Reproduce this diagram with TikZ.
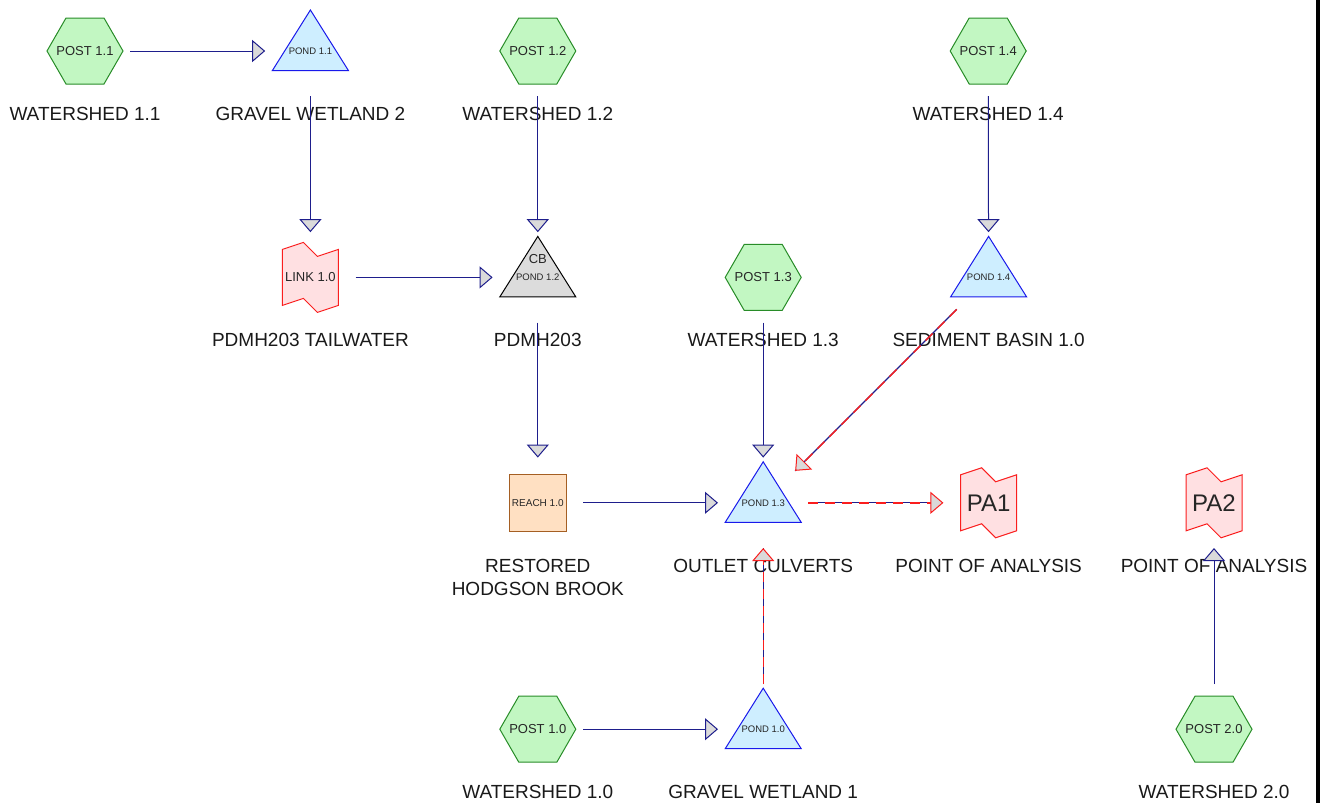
\documentclass[tikz,border=0pt]{standalone}
\usepackage{fontspec}
\setmainfont{Liberation Sans}
\usetikzlibrary{arrows.meta,positioning,backgrounds}

\definecolor{navyline}{RGB}{30,30,140}
\definecolor{postfill}{RGB}{194,247,194}
\definecolor{postdraw}{RGB}{40,140,40}
\definecolor{pondfill}{RGB}{206,238,255}
\definecolor{ponddraw}{RGB}{25,25,235}
\definecolor{cbfill}{RGB}{220,220,220}
\definecolor{linkfill}{RGB}{255,224,226}
\definecolor{linkdraw}{RGB}{250,30,30}
\definecolor{reachfill}{RGB}{255,224,194}
\definecolor{reachdraw}{RGB}{165,95,35}
\definecolor{tipfill}{RGB}{218,218,218}

\tikzset{
    pics/hexa/.style={code={\filldraw[draw=postdraw, fill=postfill, line width=1pt]
        (-38,0) -- (-19,-33) -- (19,-33) -- (38,0) -- (19,33) -- (-19,33) -- cycle;}},
    pics/tri/.style={code={\filldraw[draw=ponddraw, fill=pondfill, line width=1pt]
        (0,-41) -- (38,19.5) -- (-38,19.5) -- cycle;}},
    pics/cbtri/.style={code={\filldraw[draw=black, fill=cbfill, line width=1pt]
        (0,-41) -- (38,19.5) -- (-38,19.5) -- cycle;}},
    pics/flag/.style={code={\filldraw[draw=linkdraw, fill=linkfill, line width=1pt]
        (-28,-28) -- (-7,-35) -- (7,-21) -- (28,-28) -- (28,28) -- (7,35) -- (-7,21) -- (-28,28) -- cycle;}},
    pics/sq/.style={code={\filldraw[draw=reachdraw, fill=reachfill, line width=1pt]
        (-28.5,-28.5) rectangle (28.5,28.5);}}
}

\begin{document}
\begin{tikzpicture}[
    x=1pt, y=-1pt,
    node distance=135pt,
    unit/.style={circle, minimum size=90pt, inner sep=0pt, text=black!85},
    post/.style={unit, font=\fontsize{13}{15}\selectfont},
    pond/.style={unit, font=\fontsize{9.5}{11}\selectfont},
    link/.style={unit, font=\fontsize{13}{15}\selectfont},
    pa/.style={unit, font=\fontsize{24}{28}\selectfont},
    reach/.style={unit, font=\fontsize{10}{12}\selectfont},
    lbl/.style={font=\fontsize{19}{23}\selectfont, text=black!90, inner sep=0pt, align=center},
    cbtag/.style={font=\fontsize{13}{15}\selectfont, text=black!85, inner sep=0pt},
    flow/.style={draw=navyline, line width=1pt, -{Triangle[length=13pt, width=22pt, fill=tipfill]}},
    mixflow/.style={draw=linkdraw, line width=1.4pt, dash pattern=on 10pt off 7pt,
        -{Triangle[length=13pt, width=22pt, fill=tipfill, line width=1pt]},
        preaction={draw=navyline, solid, line width=1.3pt, -}}
]
    \useasboundingbox (0,0) rectangle (1322,803);

    % row 1
    \node [post] (post11) at (85,51) {POST 1.1};
    \node [pond, right=of post11] (pond11) {POND 1.1};
    \node [post, right=137pt of pond11] (post12) {POST 1.2};
    \node [post, right=360pt of post12] (post14) {POST 1.4};

    % row 2
    \node [link, below=136pt of pond11] (link10) {LINK 1.0};
    \node [pond, below=136pt of post12] (pond12) {POND 1.2};
    \node [post, right=of pond12] (post13) {POST 1.3};
    \node [pond, right=of post13] (pond14) {POND 1.4};

    % row 3
    \node [reach, below=of pond12] (reach10) {REACH 1.0};
    \node [pond, below=of post13] (pond13) {POND 1.3};
    \node [pa, below=of pond14] (pa1) {PA1};
    \node [pa, right=of pa1] (pa2) {PA2};

    % row 4
    \node [post, below=136pt of reach10] (post10) {POST 1.0};
    \node [pond, below=136pt of pond13] (pond10) {POND 1.0};
    \node [post, below=136pt of pa2] (post20) {POST 2.0};

    \node [cbtag] (cb12) at ([yshift=18pt]pond12) {CB};

    % shapes behind the node texts
    \begin{scope}[on background layer]
        \foreach \n in {post11,post12,post14,post13,post10,post20}
            \pic at (\n) {hexa};
        \foreach \n in {pond11,pond14,pond13,pond10}
            \pic at (\n) {tri};
        \pic at (pond12) {cbtri};
        \foreach \n in {link10,pa1,pa2}
            \pic at (\n) {flag};
        \pic at (reach10) {sq};
    \end{scope}

    % names under the shapes
    \node [lbl] (ws11) at ([yshift=-63pt]post11) {WATERSHED 1.1};
    \node [lbl] (gw2) at ([yshift=-63pt]pond11) {GRAVEL WETLAND 2};
    \node [lbl] (ws12) at ([yshift=-63pt]post12) {WATERSHED 1.2};
    \node [lbl] (ws14) at ([yshift=-63pt]post14) {WATERSHED 1.4};
    \node [lbl] (tail) at ([yshift=-63pt]link10) {PDMH203 TAILWATER};
    \node [lbl] (pdmh) at ([yshift=-63pt]pond12) {PDMH203};
    \node [lbl] (ws13) at ([yshift=-63pt]post13) {WATERSHED 1.3};
    \node [lbl] (sb10) at ([yshift=-63pt]pond14) {SEDIMENT BASIN 1.0};
    \node [lbl] (brook) at ([yshift=-74.5pt]reach10) {RESTORED\\HODGSON BROOK};
    \node [lbl] (outlet) at ([yshift=-63pt]pond13) {OUTLET CULVERTS};
    \node [lbl] (poa1) at ([yshift=-63pt]pa1) {POINT OF ANALYSIS};
    \node [lbl] (poa2) at ([yshift=-63pt]pa2) {POINT OF ANALYSIS};
    \node [lbl] (ws10) at ([yshift=-63pt]post10) {WATERSHED 1.0};
    \node [lbl] (gw1) at ([yshift=-63pt]pond10) {GRAVEL WETLAND 1};
    \node [lbl] (ws20) at ([yshift=-63pt]post20) {WATERSHED 2.0};

    % routing
    \draw [flow] (post11) -- (pond11);
    \draw [flow] (pond11) -- (link10);
    \draw [flow] (post12) -- (pond12);
    \draw [flow] (link10) -- (pond12);
    \draw [flow] (post14) -- (pond14);
    \draw [flow] (pond12) -- (reach10);
    \draw [flow] (post13) -- (pond13);
    \draw [flow] (reach10) -- (pond13);
    \draw [flow] (post10) -- (pond10);
    \draw [flow] (post20) -- (pa2);
    \draw [mixflow] (pond14) -- (pond13);
    \draw [mixflow] (pond13) -- (pa1);
    \draw [mixflow] (pond10) -- (pond13);

    \fill (1315.5,0) rectangle (1320,803);

\end{tikzpicture}
\end{document}
